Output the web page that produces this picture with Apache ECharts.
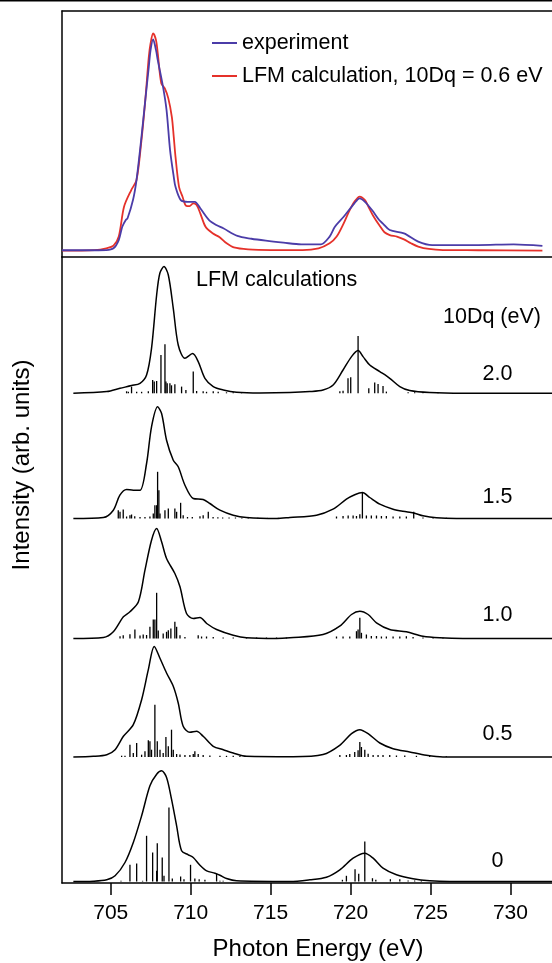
<!DOCTYPE html>
<html>
<head>
<meta charset="utf-8">
<script src="https://cdn.jsdelivr.net/npm/echarts@6/dist/echarts.min.js"></script>
<style>
  html, body { margin: 0; padding: 0; background: #fff; }
  #chart { width: 552px; height: 963px; }
</style>
</head>
<body>
<div id="chart"></div>
<script>
// photon energy axis (eV)
const tickValues = [705, 710, 715, 720, 725, 730]
const xMin = 701.95
const xMax = 732.6

// top panel: [eV, intensity], peak of calculation = 100
const expCurve = [
  [701.95, 0.2], [703.5, 0.2], [704.72, 0.3], [705.17, 1.1], [705.5, 4.9], [705.72, 11], [705.94, 14.1],
  [706.05, 14.9], [706.39, 23.3], [706.61, 32.5], [706.9, 50.9], [707.16, 69.3], [707.38, 84.6],
  [707.49, 92.3], [707.65, 97.2], [707.83, 92.3], [707.94, 87.7], [708.27, 75.4], [708.49, 64.7],
  [708.71, 46.3], [708.94, 34], [709.05, 29.4], [709.38, 23.3], [709.82, 22.5], [710.26, 22.5],
  [710.6, 19.5], [711.15, 14.1], [711.6, 11.8], [712.04, 10.3], [712.92, 6.8], [713.8, 5.5],
  [714.7, 4.6], [715.8, 3.7], [716.91, 2.9], [718.13, 2.9], [718.69, 6.5], [719.02, 11], [719.57, 15.6],
  [720.24, 21.8], [720.57, 24.1], [720.9, 22.5], [721.34, 18.7], [721.79, 14.1], [722.01, 12.6],
  [722.45, 9.5], [723.34, 8], [724.23, 4.2], [725.11, 2.6], [727.99, 2.6], [730.2, 2.9], [732.0, 2.2]
]
const calcCurve = [
  [701.95, 0], [704, 0.3], [704.72, 1.1], [705.17, 2.3], [705.5, 6.5], [705.83, 20.2], [706.28, 27.9],
  [706.61, 32.5], [706.9, 49.4], [707.16, 69.3], [707.38, 89.2], [707.49, 95.4], [707.65, 100],
  [707.83, 96.9], [707.94, 90.8], [708.16, 77], [708.38, 74.7], [708.6, 70.1], [708.82, 61.6],
  [708.94, 52.4], [709.05, 43.2], [709.27, 29.4], [709.49, 24.8], [709.71, 20.7], [709.93, 20.5],
  [710.15, 21.8], [710.37, 21], [710.6, 17.2], [710.93, 11], [711.37, 8], [711.81, 6.2], [712.25, 3.4],
  [712.7, 1.5], [713.59, 0.6], [715, 0.3], [717, 0.3], [718, 1.1], [718.69, 3.4], [719.13, 6.5],
  [719.57, 12.6], [719.9, 18], [720.24, 22.5], [720.57, 24.9], [720.9, 23.3], [721.12, 20.2],
  [721.45, 15.6], [721.79, 11.8], [722.12, 8.5], [722.45, 7.2], [722.9, 6.5], [723.34, 5.2],
  [723.78, 3.4], [724.23, 1.9], [724.9, 0.8], [725.78, 0.3], [728, 0.2], [732, 0]
]

// bottom panel: LFM calculations, one per 10Dq value
const dqLabels = ['2.0', '1.5', '1.0', '0.5', '0']
const offsets = [489.7, 364.5, 244.5, 126, 1.5]

const curve20 = [
  [702.66, 0], [704.75, 1.7], [705.58, 5], [706.3, 7.7], [706.83, 10], [707.24, 18.3], [707.55, 45],
  [707.87, 98.3], [708.07, 120], [708.33, 126.7], [708.6, 118.3], [708.91, 85], [709.22, 48.3],
  [709.64, 35], [710.12, 39.7], [710.47, 31.7], [710.89, 15], [711.41, 6.7], [712.04, 3.3], [712.87, 1],
  [714.33, 0.3], [716.2, 0.7], [717.45, 1.7], [718.28, 3.3], [718.91, 8.3], [719.53, 23.3],
  [720.06, 36.7], [720.47, 42.7], [720.78, 36.7], [721.2, 28.3], [721.83, 21.7], [722.45, 15],
  [723.08, 6.7], [723.7, 2.7], [724.95, 0.7], [727.03, 0], [732.6, 0]
]
const curve15 = [
  [702.66, 0], [704.54, 1], [705.16, 8.3], [705.57, 23.3], [705.99, 29], [706.41, 28.3], [706.83, 28.3],
  [707.24, 55], [707.55, 91.7], [707.93, 111.7], [708.18, 105], [708.49, 78.3], [708.91, 58.3],
  [709.22, 51.7], [709.64, 33.3], [710.16, 20], [710.78, 19], [711.2, 15], [711.83, 8.3], [712.66, 3.3],
  [713.49, 1], [715.37, 0], [716.2, 1], [717.87, 3.3], [718.9, 9.3], [719.74, 19.3], [720.26, 23.7],
  [720.74, 26], [721.2, 21], [721.83, 14.3], [722.66, 9.3], [723.49, 6.7], [724.01, 5.3], [724.53, 2.7],
  [725.37, 0.7], [726.62, 0], [732.6, 0]
]
const curve10 = [
  [702.66, 0], [704.54, 1], [705.16, 6.7], [705.79, 21.7], [706.2, 26.7], [706.73, 36.7], [707.14, 68.3],
  [707.55, 98.3], [707.87, 110], [708.18, 96.7], [708.49, 80], [709.01, 65], [709.33, 51.7],
  [709.74, 25], [710.16, 20], [710.58, 21], [711.0, 15], [711.62, 9], [712.66, 3.3], [713.49, 0.7],
  [715.37, 0], [716.2, 0.7], [718.28, 4], [719.32, 12.3], [720.06, 24], [720.58, 27.3], [721.1, 24],
  [721.62, 15.7], [722.45, 9], [723.49, 6.7], [724.53, 2.3], [725.58, 0.7], [727.03, 0], [732.6, 0]
]
const curve05 = [
  [702.66, 0], [703.91, 0.7], [704.75, 2.3], [705.27, 7.3], [705.79, 20.7], [706.41, 32.3],
  [706.93, 57.3], [707.35, 87.3], [707.72, 110.6], [708.07, 99], [708.49, 84], [708.91, 70.7],
  [709.22, 54], [709.53, 30.7], [709.95, 24.7], [710.37, 25.7], [710.78, 20.7], [711.41, 10.7],
  [712.04, 7.3], [712.66, 4], [713.49, 0.7], [716.41, 0.3], [718.28, 2.5], [719.32, 11.7],
  [720.06, 23.3], [720.58, 27.3], [721.1, 23.3], [721.83, 14], [722.66, 8.3], [723.7, 5],
  [724.74, 1.7], [725.78, 0], [732.6, 0]
]
const curve00 = [
  [702.66, 0], [703.91, 0.3], [704.75, 1.7], [705.27, 5.7], [705.89, 19], [706.41, 39], [706.93, 65.7],
  [707.45, 95.7], [707.87, 107.3], [708.18, 110.7], [708.49, 104], [708.8, 82.3], [709.12, 55.7],
  [709.43, 30.7], [709.85, 26.7], [710.16, 24], [710.58, 16.3], [711.0, 10.7], [711.52, 8.3],
  [711.83, 6.3], [712.24, 3], [712.87, 0.7], [716.2, 0], [717.45, 1.7], [718.49, 4.3], [719.33, 11.7],
  [720.16, 23.3], [720.89, 28.3], [721.41, 23.3], [722.03, 13.3], [722.87, 6.7], [723.91, 2.7],
  [724.95, 0.7], [726.2, 0], [732.6, 0]
]

// transition sticks [eV, height]
const sticks20 = [
  [705.99, 2], [706.1, 1.5], [706.3, 6.7], [706.62, 1.5], [706.93, 1.5], [707.35, 2], [707.62, 13.3],
  [707.72, 11.7], [707.87, 12.3], [708.14, 38.3], [708.39, 49], [708.45, 11.7], [708.53, 10],
  [708.7, 10], [708.8, 8], [709.01, 9], [709.43, 6.7], [709.7, 3.3], [710.16, 21.7], [710.37, 2.3],
  [710.78, 2], [710.99, 1.5], [711.41, 2], [711.72, 1.5], [712.24, 1], [712.66, 1], [713.18, 1],
  [719.33, 2], [719.53, 2.5], [719.84, 15], [720.01, 16], [720.47, 57.3], [721.14, 5], [721.51, 10.7],
  [721.72, 9.3], [722.03, 7.3], [722.24, 1.7], [723.6, 1], [724.01, 1], [724.53, 1], [725.47, 0.8]
]
const sticks15 = [
  [705.47, 8.3], [705.58, 6.7], [705.78, 9], [705.99, 2], [706.2, 3.3], [706.3, 4], [706.5, 2.3],
  [706.83, 1.5], [707.14, 1.5], [707.45, 2], [707.66, 5], [707.76, 13.3], [707.87, 13.3],
  [707.93, 46.7], [708.01, 28.3], [708.08, 5], [708.39, 8.3], [708.6, 10], [709.01, 10], [709.12, 6.7],
  [709.37, 15.7], [709.53, 3.3], [709.8, 1.5], [710.1, 1.5], [710.58, 2.3], [710.78, 3.3], [711.1, 6.7],
  [711.4, 1.5], [711.7, 1.2], [712.0, 1], [712.4, 1], [712.8, 1], [713.2, 0.8], [713.6, 0.8],
  [714.2, 0.8], [714.8, 0.6], [715.5, 0.6],
  [719.12, 2], [719.53, 2.5], [719.85, 3], [720.16, 3], [720.37, 2.5], [720.58, 4.3], [720.74, 26],
  [720.99, 3], [721.3, 3], [721.62, 3], [721.93, 2.5], [722.24, 2.5], [722.66, 2], [723.08, 2],
  [723.49, 2], [723.95, 6.7], [724.53, 1], [725.16, 1], [725.99, 0.8]
]
const sticks10 = [
  [705.58, 2.3], [705.78, 3.3], [706.2, 4.3], [706.51, 9], [706.83, 3], [707.03, 4], [707.24, 3.5],
  [707.45, 11.7], [707.66, 19], [707.76, 19], [707.87, 45.7], [707.97, 8], [708.28, 5], [708.49, 6.7],
  [708.6, 8.3], [708.76, 10], [709.01, 16.7], [709.12, 11.7], [709.33, 3.3], [709.64, 1.5],
  [710.47, 3.3], [710.68, 2], [710.99, 2], [711.41, 1.5], [712.03, 1], [712.66, 1], [713.49, 1],
  [714.12, 1], [714.74, 1], [715.37, 1], [715.99, 1],
  [719.12, 2], [719.53, 2], [719.95, 2], [720.37, 7.3], [720.47, 9], [720.58, 20.7], [720.68, 5.7],
  [720.99, 4], [721.3, 2.5], [721.62, 2.5], [721.93, 2], [722.24, 2], [722.66, 2], [723.08, 2],
  [723.49, 2.3], [723.91, 1.5], [724.53, 1], [725.16, 1], [725.78, 0.8]
]
const sticks05 = [
  [705.68, 1.3], [705.89, 1.3], [706.2, 12.3], [706.41, 4], [706.62, 14], [706.93, 2.3], [707.14, 5.7],
  [707.35, 16.7], [707.45, 15.7], [707.55, 7.3], [707.76, 52.3], [707.91, 15.7], [708.08, 7.3],
  [708.28, 4], [708.45, 20], [708.6, 10.7], [708.8, 27.3], [708.91, 7.3], [709.12, 3], [709.33, 2.5],
  [709.64, 2], [709.95, 2], [710.16, 3], [710.26, 5.7], [710.47, 3], [710.78, 2], [711.2, 1.5],
  [711.83, 1.2], [712.24, 1.2], [712.66, 1.2], [713.08, 1], [713.49, 1], [714.33, 0.8], [714.95, 0.8],
  [719.33, 2], [719.74, 2], [719.95, 3], [720.26, 5], [720.47, 6.7], [720.58, 15], [720.68, 10],
  [720.89, 7.3], [721.1, 3.3], [721.41, 2], [721.72, 2], [722.03, 2], [722.45, 2], [722.87, 1.5],
  [723.39, 1.5], [724.12, 1.2], [724.95, 1], [725.99, 0.8]
]
const sticks00 = [
  [705.64, 0.7], [706.2, 16.7], [706.62, 18], [706.99, 0.7], [707.24, 45.7], [707.62, 29],
  [707.87, 10.7], [707.91, 38.3], [708.22, 24], [708.33, 5.7], [708.64, 74], [708.85, 3], [709.37, 5],
  [709.58, 2.3], [709.99, 16.7], [710.26, 3], [710.53, 2.3], [710.89, 1.7], [711.62, 8], [711.83, 0.7],
  [712.03, 0.7],
  [719.49, 1.7], [719.74, 5.7], [720.28, 12.3], [720.51, 7.7], [720.89, 40], [721.37, 3.3],
  [721.58, 1.7], [722.49, 2.3], [723.08, 2.3], [723.6, 1], [724.01, 1], [724.43, 1]
]

const calcCurves = [curve20, curve15, curve10, curve05, curve00]
const stickSets = [sticks20, sticks15, sticks10, sticks05, sticks00]

const FONT = '"Liberation Sans", Arial, Helvetica, sans-serif'
const RED = '#e5312a'
const BLUE = '#4b3ca8'

const chart = echarts.init(document.getElementById('chart'), null, { renderer: 'canvas' })

const hiddenAxisParts = {
  axisTick: { show: false },
  axisLabel: { show: false },
  splitLine: { show: false }
}
const blackLine = { show: true, onZero: false, lineStyle: { color: '#000', width: 1.5 } }

function stickSeries(sticks, offset) {
  return {
    type: 'custom',
    xAxisIndex: 2,
    yAxisIndex: 1,
    silent: true,
    data: sticks,
    renderItem: (params, api) => {
      const e = api.value(0)
      const p0 = api.coord([e, offset])
      const p1 = api.coord([e, offset + api.value(1)])
      return {
        type: 'line',
        shape: { x1: p0[0], y1: p0[1], x2: p1[0], y2: p1[1] },
        style: { stroke: '#000', lineWidth: 1.3 }
      }
    }
  }
}

const series = [
  {
    name: 'experiment',
    type: 'line',
    xAxisIndex: 0,
    yAxisIndex: 0,
    data: expCurve,
    symbol: 'none',
    smooth: 0.3,
    lineStyle: { color: BLUE, width: 1.8 },
    itemStyle: { color: BLUE },
    z: 3
  },
  {
    name: 'LFM calculation, 10Dq = 0.6 eV',
    type: 'line',
    xAxisIndex: 0,
    yAxisIndex: 0,
    data: calcCurve,
    symbol: 'none',
    smooth: 0.3,
    lineStyle: { color: RED, width: 1.8 },
    itemStyle: { color: RED },
    z: 2
  }
]

calcCurves.forEach((curve, i) => {
  series.push({
    name: '10Dq ' + dqLabels[i],
    type: 'line',
    xAxisIndex: 2,
    yAxisIndex: 1,
    data: curve.map(p => [p[0], p[1] + offsets[i]]),
    symbol: 'none',
    smooth: 0.3,
    lineStyle: { color: '#000', width: 1.5 }
  })
  series.push(stickSeries(stickSets[i], offsets[i]))
})

const textStyle = { fontFamily: FONT, fontSize: 21.5, fill: '#000' }

// curve labels in the lower panel
const labelY = [374, 497.5, 615.5, 734, 861]
const annotations = dqLabels.map((t, i) => ({
  type: 'text',
  x: 497.5,
  y: labelY[i],
  style: Object.assign({ text: t, align: 'center', verticalAlign: 'middle' }, textStyle)
}))

const option = {
  backgroundColor: '#fff',
  animation: false,
  textStyle: { fontFamily: FONT },
  grid: [
    { left: 62, right: 0, top: 11, height: 246, outerBoundsMode: 'none' },
    { left: 62, right: 0, top: 257, bottom: 80, outerBoundsMode: 'none' }
  ],
  legend: {
    data: ['experiment', 'LFM calculation, 10Dq = 0.6 eV'],
    orient: 'vertical',
    left: 207,
    top: 27,
    icon: 'rect',
    itemWidth: 25,
    itemHeight: 2,
    itemGap: 11,
    textStyle: { fontFamily: FONT, fontSize: 21.5, color: '#000', lineHeight: 22 }
  },
  xAxis: [
    Object.assign({ type: 'value', gridIndex: 0, min: xMin, max: xMax, position: 'bottom', axisLine: blackLine }, hiddenAxisParts),
    Object.assign({ type: 'value', gridIndex: 0, min: xMin, max: xMax, position: 'top', axisLine: blackLine }, hiddenAxisParts),
    {
      type: 'value',
      gridIndex: 1,
      min: xMin,
      max: xMax,
      position: 'bottom',
      axisLine: blackLine,
      splitLine: { show: false },
      axisTick: { show: true, inside: false, length: 12, customValues: tickValues, lineStyle: { color: '#000', width: 1.5 } },
      axisLabel: { show: true, customValues: tickValues, margin: 20, color: '#000', fontSize: 21, fontFamily: FONT },
      name: 'Photon Energy (eV)',
      nameLocation: 'middle',
      nameGap: 54,
      nameTextStyle: { color: '#000', fontSize: 24, fontFamily: FONT, padding: [0, 0, 0, 22] }
    }
  ],
  yAxis: [
    Object.assign({ type: 'value', gridIndex: 0, min: -2.9, max: 110.3, axisLine: blackLine }, hiddenAxisParts),
    Object.assign({ type: 'value', gridIndex: 1, min: 0, max: 626, axisLine: blackLine }, hiddenAxisParts)
  ],
  graphic: [
    { type: 'line', shape: { x1: 0, y1: 0.75, x2: 552, y2: 0.75 }, style: { stroke: '#000', lineWidth: 1.5 } },
    {
      type: 'text', x: 22, y: 465, rotation: Math.PI / 2,
      style: Object.assign({ text: 'Intensity (arb. units)', align: 'center', verticalAlign: 'middle' }, textStyle, { fontSize: 24 })
    },
    { type: 'text', x: 196, y: 280, style: Object.assign({ text: 'LFM calculations', verticalAlign: 'middle' }, textStyle) },
    { type: 'text', x: 443, y: 317, style: Object.assign({ text: '10Dq (eV)', verticalAlign: 'middle' }, textStyle) }
  ].concat(annotations),
  series: series
}

chart.setOption(option)
</script>
</body>
</html>
